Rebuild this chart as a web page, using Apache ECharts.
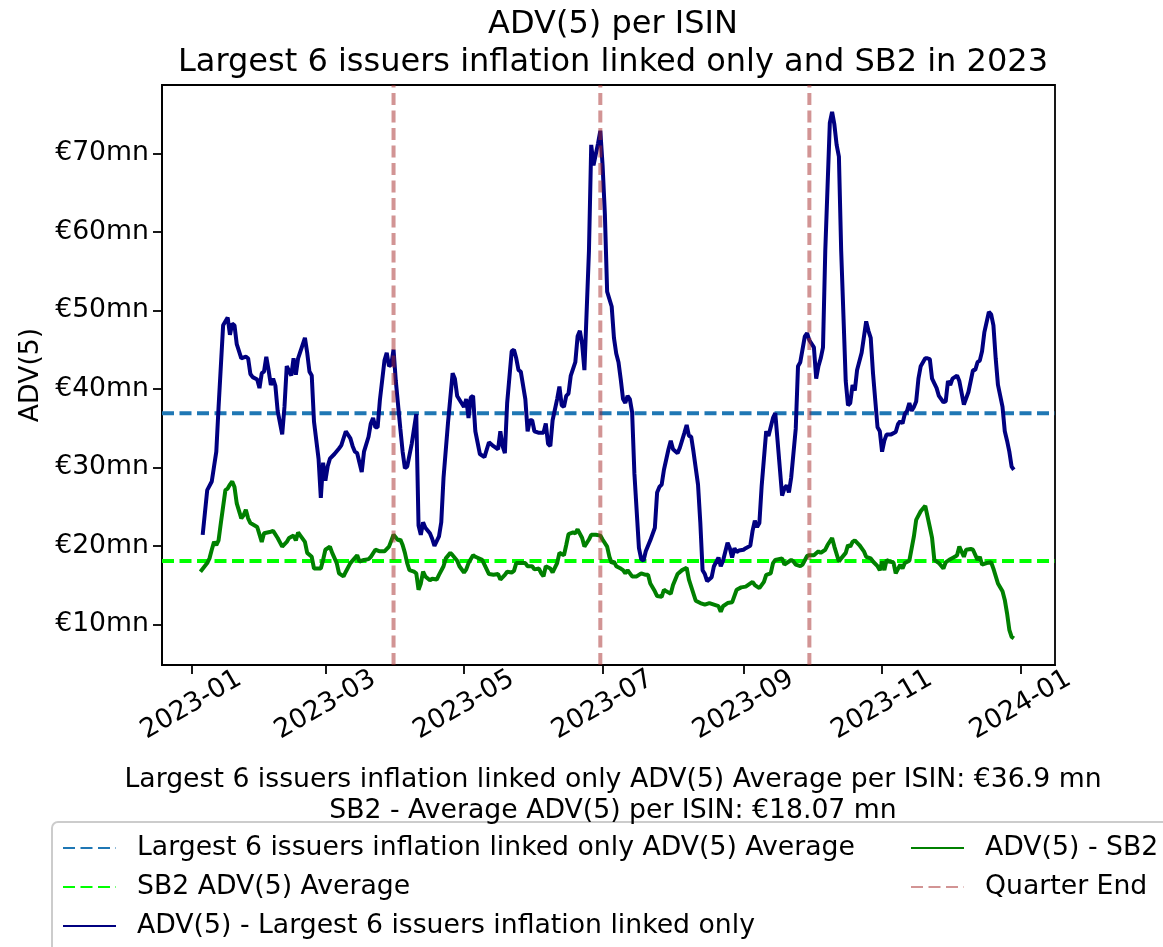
<!DOCTYPE html>
<html>
<head>
<meta charset="utf-8">
<title>ADV(5) per ISIN</title>
<script src="https://cdn.jsdelivr.net/npm/echarts@6/dist/echarts.min.js"></script>
<style>
  html, body { margin: 0; padding: 0; background: #fff; }
  #advChart { width: 1163px; height: 947px; }
</style>
</head>
<body>
<div id="advChart"></div>
<script>
// ---- data ----
const largestDates = [
  '2023-01-06','2023-01-08','2023-01-10','2023-01-11','2023-01-12','2023-01-13','2023-01-15','2023-01-17','2023-01-18','2023-01-19',
  '2023-01-20','2023-01-21','2023-01-23','2023-01-25','2023-01-26','2023-01-27','2023-01-28','2023-01-30','2023-01-31','2023-02-01',
  '2023-02-02','2023-02-03','2023-02-04','2023-02-05','2023-02-06','2023-02-07','2023-02-08','2023-02-10','2023-02-11','2023-02-12',
  '2023-02-14','2023-02-15','2023-02-16','2023-02-17','2023-02-20','2023-02-21','2023-02-22','2023-02-23','2023-02-24','2023-02-26',
  '2023-02-27','2023-02-28','2023-03-01','2023-03-02','2023-03-03','2023-03-05','2023-03-07','2023-03-08','2023-03-10','2023-03-12',
  '2023-03-13','2023-03-14','2023-03-15','2023-03-17','2023-03-18','2023-03-20','2023-03-21','2023-03-22','2023-03-23','2023-03-24',
  '2023-03-25','2023-03-27','2023-03-28','2023-03-29','2023-03-30','2023-03-31','2023-04-01','2023-04-03','2023-04-04','2023-04-05',
  '2023-04-06','2023-04-08','2023-04-10','2023-04-11','2023-04-12','2023-04-13','2023-04-14','2023-04-16','2023-04-17','2023-04-18',
  '2023-04-20','2023-04-21','2023-04-22','2023-04-24','2023-04-26','2023-04-27','2023-04-28','2023-05-01','2023-05-02','2023-05-03',
  '2023-05-04','2023-05-05','2023-05-06','2023-05-08','2023-05-10','2023-05-12','2023-05-14','2023-05-16','2023-05-17','2023-05-18',
  '2023-05-19','2023-05-20','2023-05-22','2023-05-23','2023-05-24','2023-05-25','2023-05-26','2023-05-28','2023-05-29','2023-05-30',
  '2023-05-31','2023-06-01','2023-06-03','2023-06-05','2023-06-06','2023-06-07','2023-06-08','2023-06-09','2023-06-11','2023-06-12',
  '2023-06-13','2023-06-14','2023-06-15','2023-06-16','2023-06-17','2023-06-19','2023-06-20','2023-06-21','2023-06-22','2023-06-23',
  '2023-06-25','2023-06-26','2023-06-27','2023-06-28','2023-06-29','2023-06-30','2023-07-01','2023-07-02','2023-07-03','2023-07-05',
  '2023-07-06','2023-07-07','2023-07-08','2023-07-09','2023-07-10','2023-07-11','2023-07-12','2023-07-13','2023-07-14','2023-07-15',
  '2023-07-17','2023-07-18','2023-07-19','2023-07-20','2023-07-22','2023-07-24','2023-07-25','2023-07-26','2023-07-27','2023-07-28',
  '2023-07-30','2023-07-31','2023-08-01','2023-08-03','2023-08-04','2023-08-06','2023-08-07','2023-08-08','2023-08-09','2023-08-10',
  '2023-08-12','2023-08-13','2023-08-14','2023-08-15','2023-08-16','2023-08-18','2023-08-19','2023-08-21','2023-08-22','2023-08-23',
  '2023-08-25','2023-08-26','2023-08-27','2023-08-28','2023-08-29','2023-08-30','2023-09-01','2023-09-02','2023-09-04','2023-09-05',
  '2023-09-06','2023-09-07','2023-09-08','2023-09-09','2023-09-11','2023-09-12','2023-09-14','2023-09-15','2023-09-16','2023-09-18',
  '2023-09-19','2023-09-20','2023-09-21','2023-09-22','2023-09-24','2023-09-25','2023-09-26','2023-09-28','2023-09-29','2023-09-30',
  '2023-10-02','2023-10-03','2023-10-04','2023-10-05','2023-10-06','2023-10-07','2023-10-09','2023-10-10','2023-10-11','2023-10-12',
  '2023-10-13','2023-10-14','2023-10-16','2023-10-17','2023-10-18','2023-10-19','2023-10-20','2023-10-21','2023-10-23','2023-10-25',
  '2023-10-26','2023-10-27','2023-10-28','2023-10-30','2023-10-31','2023-11-01','2023-11-02','2023-11-03','2023-11-05','2023-11-07',
  '2023-11-08','2023-11-09','2023-11-10','2023-11-11','2023-11-12','2023-11-13','2023-11-14','2023-11-15','2023-11-16','2023-11-17',
  '2023-11-18','2023-11-20','2023-11-21','2023-11-22','2023-11-23','2023-11-25','2023-11-26','2023-11-28','2023-11-29','2023-11-30',
  '2023-12-01','2023-12-02','2023-12-04','2023-12-05','2023-12-07','2023-12-09','2023-12-10','2023-12-11','2023-12-12','2023-12-13',
  '2023-12-14','2023-12-15','2023-12-16','2023-12-18','2023-12-19','2023-12-20','2023-12-21','2023-12-22','2023-12-24','2023-12-25',
  '2023-12-26','2023-12-27','2023-12-28','2023-12-29'
];
const largestAdv = [
  21.4, 27.1, 28.2, 30.1, 32.0, 37.7, 48.1, 49.1, 46.9, 48.3,
  48.1, 45.7, 43.9, 44.1, 43.9, 41.9, 41.5, 41.2, 40.1, 42.0,
  42.2, 44.1, 42.4, 40.5, 41.3, 40.4, 37.2, 34.2, 37.7, 42.9,
  41.7, 43.9, 41.8, 43.9, 46.5, 44.6, 42.2, 41.7, 35.8, 31.1,
  26.1, 30.6, 28.3, 30.1, 31.1, 31.7, 32.4, 32.8, 34.6, 33.7,
  32.7, 32.0, 31.8, 29.4, 32.0, 33.9, 35.6, 36.3, 35.1, 35.1,
  38.6, 43.6, 44.6, 42.9, 43.1, 45.0, 41.0, 34.9, 32.0, 29.9,
  30.1, 33.0, 36.8, 22.6, 21.4, 23.0, 22.3, 21.6, 20.9, 20.0,
  21.2, 23.0, 28.7, 35.8, 42.0, 41.3, 39.1, 37.7, 38.7, 36.3,
  38.9, 39.1, 34.6, 31.7, 31.3, 33.2, 32.7, 32.3, 34.6, 32.7,
  31.8, 38.2, 44.8, 45.0, 43.9, 42.4, 42.2, 38.7, 34.6, 36.0,
  36.0, 34.6, 34.4, 34.4, 35.6, 33.0, 32.7, 36.0, 38.7, 40.3,
  37.9, 37.7, 39.1, 39.4, 41.7, 43.4, 46.7, 47.4, 45.7, 42.4,
  57.6, 71.1, 68.5, 69.9, 71.3, 72.9, 68.5, 62.3, 52.4, 50.5,
  46.5, 44.5, 43.4, 41.2, 38.7, 38.2, 39.1, 38.7, 37.0, 29.2,
  19.7, 18.3, 18.1, 19.3, 20.7, 22.3, 26.8, 27.5, 27.8, 29.7,
  32.3, 33.4, 32.3, 31.8, 32.5, 34.4, 35.4, 34.0, 33.9, 32.0,
  27.8, 23.0, 16.9, 16.4, 15.5, 16.0, 17.4, 18.5, 17.4, 18.1,
  20.4, 19.7, 18.5, 19.7, 19.2, 19.4, 19.5, 19.7, 20.0, 21.9,
  23.2, 22.4, 22.9, 27.6, 34.6, 34.0, 36.3, 36.9, 33.4, 26.4,
  27.3, 27.7, 26.8, 28.7, 34.9, 42.9, 43.4, 46.7, 47.1, 46.2,
  45.3, 41.3, 42.9, 43.9, 45.3, 57.6, 73.9, 75.3, 73.7, 71.1,
  69.6, 57.6, 41.0, 37.9, 38.2, 40.5, 39.8, 42.4, 44.6, 48.6,
  47.4, 46.5, 42.0, 35.1, 34.6, 32.0, 33.4, 34.2, 34.2, 34.5,
  35.5, 35.9, 35.6, 36.8, 37.2, 38.2, 37.2, 37.7, 38.4, 41.3,
  42.9, 43.9, 43.9, 43.8, 41.3, 40.1, 39.1, 38.3, 38.4, 41.0,
  40.5, 41.3, 41.7, 41.0, 38.0, 39.6, 41.0, 42.4, 42.4, 43.4,
  43.6, 44.8, 47.2, 49.8, 49.5, 48.1, 43.9, 40.5, 37.7, 34.6,
  33.4, 32.0, 30.1, 29.7
];

const sb2Dates = [
  '2023-01-05','2023-01-08','2023-01-09','2023-01-10','2023-01-11','2023-01-12','2023-01-13','2023-01-14','2023-01-16','2023-01-17',
  '2023-01-18','2023-01-19','2023-01-20','2023-01-21','2023-01-23','2023-01-24','2023-01-25','2023-01-26','2023-01-27','2023-01-30',
  '2023-02-01','2023-02-02','2023-02-05','2023-02-06','2023-02-08','2023-02-10','2023-02-12','2023-02-13','2023-02-15','2023-02-16',
  '2023-02-17','2023-02-18','2023-02-20','2023-02-21','2023-02-23','2023-02-24','2023-02-26','2023-02-27','2023-02-28','2023-03-01',
  '2023-03-03','2023-03-04','2023-03-06','2023-03-07','2023-03-09','2023-03-10','2023-03-12','2023-03-15','2023-03-16','2023-03-18',
  '2023-03-20','2023-03-21','2023-03-23','2023-03-25','2023-03-27','2023-03-29','2023-03-31','2023-04-02','2023-04-03','2023-04-04',
  '2023-04-05','2023-04-06','2023-04-07','2023-04-09','2023-04-10','2023-04-11','2023-04-12','2023-04-13','2023-04-14','2023-04-16',
  '2023-04-17','2023-04-19','2023-04-20','2023-04-22','2023-04-23','2023-04-25','2023-04-26','2023-04-28','2023-04-29','2023-05-01',
  '2023-05-02','2023-05-03','2023-05-05','2023-05-06','2023-05-09','2023-05-10','2023-05-12','2023-05-14','2023-05-16','2023-05-17',
  '2023-05-19','2023-05-20','2023-05-22','2023-05-23','2023-05-24','2023-05-26','2023-05-28','2023-05-29','2023-05-31','2023-06-01',
  '2023-06-03','2023-06-04','2023-06-05','2023-06-06','2023-06-08','2023-06-09','2023-06-11','2023-06-12','2023-06-14','2023-06-15',
  '2023-06-16','2023-06-18','2023-06-19','2023-06-20','2023-06-22','2023-06-23','2023-06-25','2023-06-26','2023-06-28','2023-06-30',
  '2023-07-01','2023-07-03','2023-07-04','2023-07-05','2023-07-06','2023-07-07','2023-07-09','2023-07-10','2023-07-11','2023-07-12',
  '2023-07-14','2023-07-16','2023-07-18','2023-07-20','2023-07-21','2023-07-22','2023-07-24','2023-07-25','2023-07-27','2023-07-28',
  '2023-07-29','2023-07-31','2023-08-01','2023-08-03','2023-08-05','2023-08-07','2023-08-08','2023-08-11','2023-08-13','2023-08-15',
  '2023-08-17','2023-08-19','2023-08-21','2023-08-22','2023-08-23','2023-08-25','2023-08-27','2023-08-29','2023-08-31','2023-09-02',
  '2023-09-05','2023-09-06','2023-09-08','2023-09-10','2023-09-11','2023-09-13','2023-09-14','2023-09-15','2023-09-18','2023-09-19',
  '2023-09-21','2023-09-22','2023-09-23','2023-09-24','2023-09-26','2023-09-27','2023-09-29','2023-09-30','2023-10-02','2023-10-04',
  '2023-10-05','2023-10-07','2023-10-08','2023-10-10','2023-10-11','2023-10-13','2023-10-14','2023-10-16','2023-10-17','2023-10-18',
  '2023-10-19','2023-10-20','2023-10-22','2023-10-24','2023-10-25','2023-10-27','2023-10-28','2023-10-30','2023-10-31','2023-11-01',
  '2023-11-02','2023-11-03','2023-11-04','2023-11-06','2023-11-07','2023-11-09','2023-11-10','2023-11-11','2023-11-13','2023-11-15',
  '2023-11-16','2023-11-18','2023-11-20','2023-11-22','2023-11-23','2023-11-24','2023-11-26','2023-11-28','2023-11-29','2023-12-01',
  '2023-12-03','2023-12-04','2023-12-05','2023-12-07','2023-12-08','2023-12-10','2023-12-11','2023-12-13','2023-12-14','2023-12-15',
  '2023-12-17','2023-12-19','2023-12-20','2023-12-22','2023-12-24','2023-12-25','2023-12-26','2023-12-27','2023-12-28','2023-12-29'
];
const sb2Adv = [
  16.7, 17.8, 18.4, 19.5, 20.5, 20.1, 20.7, 22.9, 27.1, 27.3,
  27.8, 28.2, 27.5, 25.4, 23.5, 23.9, 24.6, 23.5, 22.9, 22.4,
  20.5, 21.6, 21.8, 21.9, 21.0, 19.9, 20.5, 21.0, 21.3, 20.7,
  21.7, 21.3, 20.5, 19.1, 18.6, 17.1, 17.1, 17.1, 18.2, 19.5,
  19.9, 19.1, 17.8, 16.5, 16.1, 16.7, 17.8, 18.8, 18.0, 18.2,
  18.3, 18.6, 19.5, 19.3, 19.3, 19.9, 21.4, 20.7, 20.8, 20.1,
  19.1, 17.8, 16.9, 16.7, 16.5, 14.4, 15.2, 16.7, 16.1, 15.6,
  15.8, 15.7, 16.3, 17.4, 18.4, 19.1, 18.8, 18.1, 17.4, 16.6,
  17.0, 17.8, 18.8, 18.6, 18.2, 17.6, 16.4, 16.3, 16.4, 15.7,
  16.3, 16.7, 16.6, 16.8, 17.8, 17.8, 17.8, 17.4, 17.4, 17.0,
  17.1, 16.5, 16.1, 17.4, 17.1, 16.6, 17.8, 19.1, 18.8, 20.1,
  21.5, 21.7, 21.6, 22.1, 21.0, 19.9, 20.8, 21.4, 21.4, 21.3,
  20.8, 19.9, 18.6, 17.8, 18.0, 17.4, 17.1, 16.9, 16.5, 16.9,
  16.1, 16.1, 16.5, 16.3, 16.3, 15.2, 14.2, 13.6, 13.5, 14.4,
  14.2, 13.9, 15.0, 16.4, 16.9, 17.2, 15.7, 13.0, 12.7, 12.5,
  12.7, 12.5, 12.3, 11.6, 12.3, 12.7, 12.8, 14.4, 14.7, 14.8,
  15.4, 15.0, 14.6, 15.4, 16.3, 16.5, 17.8, 18.2, 18.4, 17.6,
  18.0, 18.2, 18.0, 17.6, 17.4, 17.6, 18.7, 18.8, 18.8, 19.3,
  19.1, 19.5, 20.1, 21.0, 19.9, 18.0, 18.4, 19.1, 20.1, 19.9,
  20.5, 20.7, 20.1, 19.3, 18.6, 18.4, 18.0, 17.4, 16.9, 18.0,
  16.9, 18.2, 18.0, 17.9, 16.5, 17.6, 17.1, 17.8, 18.1, 21.2,
  23.3, 24.4, 25.1, 22.4, 21.0, 18.2, 17.8, 17.1, 17.9, 18.3,
  18.6, 18.8, 19.9, 18.6, 19.5, 19.6, 19.5, 18.2, 18.6, 17.6,
  17.8, 17.9, 17.1, 15.2, 14.2, 13.1, 11.4, 9.3, 8.4, 8.2
];

const largestAverage = 36.9;
const sb2Average = 18.07;
const quarterEnds = ['2023-03-31', '2023-06-30', '2023-09-30'];
const tickDates = ['2023-01-01', '2023-03-01', '2023-05-01', '2023-07-01', '2023-09-01', '2023-11-01', '2024-01-01'];
const yTicks = [10, 20, 30, 40, 50, 60, 70];

const chartTitle = 'ADV(5) per ISIN\nLargest 6 issuers inflation linked only and SB2 in 2023';
const xLabelText = 'Largest 6 issuers inflation linked only ADV(5) Average per ISIN: €' + largestAverage + ' mn\n' +
  'SB2 - Average ADV(5) per ISIN: €' + sb2Average + ' mn';

const NAME_LARGEST_AVG = 'Largest 6 issuers inflation linked only ADV(5) Average';
const NAME_SB2_AVG = 'SB2 ADV(5) Average';
const NAME_LARGEST = 'ADV(5) - Largest 6 issuers inflation linked only';
const NAME_SB2 = 'ADV(5) - SB2';
const NAME_QUARTER = 'Quarter End';

// ---- axis ranges (matplotlib style margins) ----
const DAY = 86400000;
const toTime = s => new Date(s + 'T00:00:00').getTime();
const jan1 = toTime('2023-01-01');
const xMin = jan1 - 12.9 * DAY;
const xMax = jan1 + 380.1 * DAY;
const yMin = 4.81;
const yMax = 78.73;

const pairs = (dates, vals) => dates.map((d, i) => [toTime(d), vals[i]]);

const quarterData = [];
quarterEnds.forEach(q => {
  quarterData.push([toTime(q), yMin], [toTime(q), yMax], [toTime(q), '-']);
});

const FONT = 'DejaVu Sans';
const LW = 4;
const DASH = [12, 5.5];

const legendCommon = {
  orient: 'vertical',
  top: 833,
  padding: 0,
  itemGap: 9,
  itemWidth: 53,
  itemHeight: 14,
  itemStyle: {opacity: 0},
  textStyle: {fontFamily: FONT, fontSize: 26.7, color: '#000', lineHeight: 30, padding: [0, 0, 0, 16]}
};

const chart = echarts.init(document.getElementById('advChart'), null, {renderer: 'canvas'});

const option = {
  animation: false,
  backgroundColor: '#fff',
  textStyle: {fontFamily: FONT, color: '#000'},
  title: [
    {
      text: chartTitle,
      left: 608,
      top: 1,
      textAlign: 'center',
      textStyle: {fontFamily: FONT, fontSize: 32, fontWeight: 'normal', color: '#000', lineHeight: 38}
    },
    {
      text: xLabelText,
      left: 608,
      top: 760,
      textAlign: 'center',
      textStyle: {fontFamily: FONT, fontSize: 26.7, fontWeight: 'normal', color: '#000', lineHeight: 31}
    }
  ],
  grid: {
    left: 162, right: 108, top: 85, bottom: 282,
    show: true, borderColor: '#000', borderWidth: 1.8,
    containLabel: false
  },
  xAxis: {
    type: 'value',
    min: xMin,
    max: xMax,
    splitLine: {show: false},
    axisLine: {show: true, lineStyle: {color: '#000', width: 1.8}},
    axisTick: {
      show: true, length: 9, lineStyle: {color: '#000', width: 1.8},
      customValues: tickDates.map(toTime)
    },
    axisLabel: {
      customValues: tickDates.map(toTime),
      rotate: 30,
      align: 'center',
      verticalAlign: 'middle',
      margin: 40,
      fontFamily: FONT,
      fontSize: 26.7,
      color: '#000',
      formatter: v => {
        const d = new Date(v);
        return d.getFullYear() + '-' + String(d.getMonth() + 1).padStart(2, '0');
      }
    }
  },
  yAxis: {
    type: 'value',
    min: yMin,
    max: yMax,
    name: 'ADV(5)',
    nameLocation: 'middle',
    nameGap: 116,
    nameTextStyle: {fontFamily: FONT, fontSize: 26.7, color: '#000'},
    splitLine: {show: false},
    axisLine: {show: true, lineStyle: {color: '#000', width: 1.8}},
    axisTick: {
      show: true, length: 9, lineStyle: {color: '#000', width: 1.8},
      customValues: yTicks
    },
    axisLabel: {
      customValues: yTicks,
      margin: 13,
      fontFamily: FONT,
      fontSize: 26.7,
      color: '#000',
      formatter: v => '€' + v + 'mn'
    }
  },
  legend: [
    Object.assign({}, legendCommon, {left: 62, data: [NAME_LARGEST_AVG, NAME_SB2_AVG, NAME_LARGEST]}),
    Object.assign({}, legendCommon, {left: 910, data: [NAME_SB2, NAME_QUARTER]})
  ],
  graphic: [
    {
      type: 'rect',
      z: 0,
      shape: {x: 52, y: 822, width: 1120, height: 140, r: 6},
      style: {fill: '#fff', stroke: '#cccccc', lineWidth: 2}
    }
  ],
  series: [
    {
      name: NAME_LARGEST_AVG,
      type: 'line',
      symbol: 'none',
      z: 2,
      color: '#1f77b4',
      lineStyle: {color: '#1f77b4', width: LW, type: DASH},
      data: [[xMin, largestAverage], [xMax, largestAverage]]
    },
    {
      name: NAME_SB2_AVG,
      type: 'line',
      symbol: 'none',
      z: 2,
      color: '#00ff00',
      lineStyle: {color: '#00ff00', width: LW, type: DASH},
      data: [[xMin, sb2Average], [xMax, sb2Average]]
    },
    {
      name: NAME_LARGEST,
      type: 'line',
      symbol: 'none',
      z: 3,
      color: '#000080',
      lineStyle: {color: '#000080', width: LW},
      data: pairs(largestDates, largestAdv)
    },
    {
      name: NAME_SB2,
      type: 'line',
      symbol: 'none',
      z: 3,
      color: '#008000',
      lineStyle: {color: '#008000', width: LW},
      data: pairs(sb2Dates, sb2Adv)
    },
    {
      name: NAME_QUARTER,
      type: 'line',
      symbol: 'none',
      z: 4,
      connectNulls: false,
      color: 'rgba(165,42,42,0.5)',
      lineStyle: {color: 'rgba(165,42,42,0.5)', width: LW, type: DASH},
      data: quarterData
    }
  ]
};

chart.setOption(option);
window.onresize = chart.resize;
</script>
</body>
</html>
